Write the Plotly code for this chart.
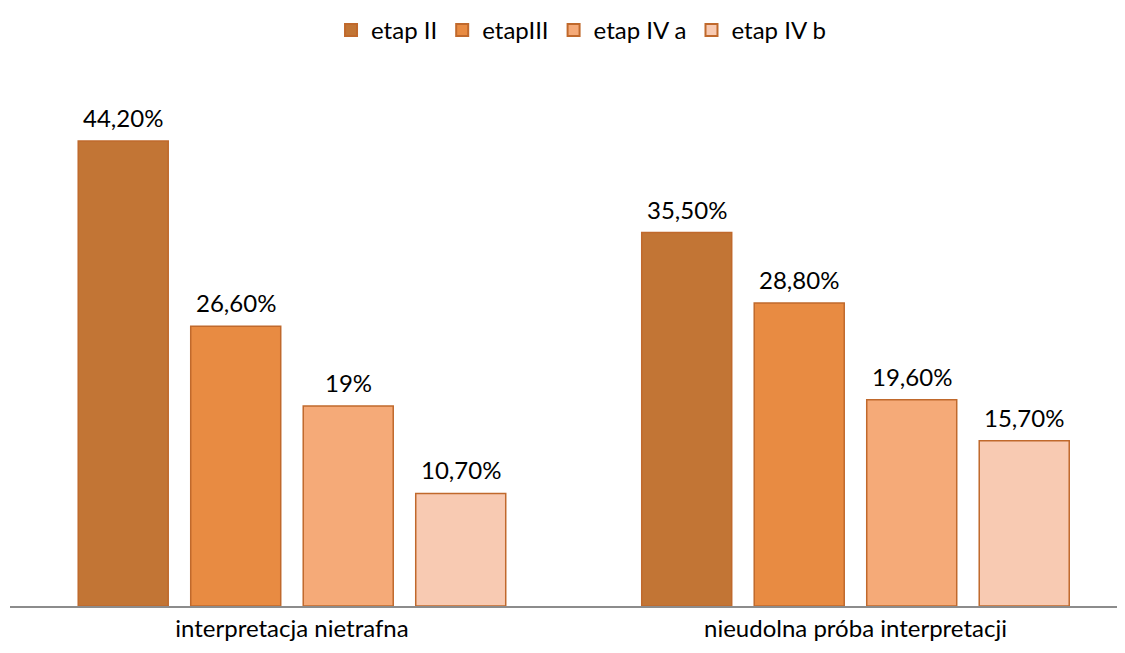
import plotly.graph_objects as go

categories = ["interpretacja nietrafna", "nieudolna próba interpretacji"]
series_names = ["etap II", "etapIII", "etap IV a", "etap IV b"]
values = {
    "etap II": [44.2, 35.5],
    "etapIII": [26.6, 28.8],
    "etap IV a": [19.0, 19.6],
    "etap IV b": [10.7, 15.7],
}
labels = {
    "etap II": ["44,20%", "35,50%"],
    "etapIII": ["26,60%", "28,80%"],
    "etap IV a": ["19%", "19,60%"],
    "etap IV b": ["10,70%", "15,70%"],
}
colors = ["#C27535", "#E88B42", "#F5AA78", "#F8CAB2"]
FONT = "Lato, 'Open Sans', sans-serif"

BARGAP = 0.2014
GROUPGAP = 0.2
n = len(series_names)

fig = go.Figure()
annotations = []
for i, (name, col) in enumerate(zip(series_names, colors)):
    fig.add_trace(go.Bar(
        name=name,
        x=categories,
        y=values[name],
        marker=dict(color=col, line=dict(color="#C0692C", width=1.5)),
    ))
    slot = (1 - BARGAP) / n
    off = (i - (n - 1) / 2) * slot
    for ci, (v, t) in enumerate(zip(values[name], labels[name])):
        annotations.append(dict(
            x=ci + off, y=v, xref="x", yref="y", text=t, showarrow=False,
            yanchor="bottom", yshift=7,
            font=dict(family=FONT, size=24, color="#000000"),
        ))

fig.update_layout(
    width=1117, height=645,
    paper_bgcolor="white", plot_bgcolor="white",
    barmode="group", bargap=BARGAP, bargroupgap=GROUPGAP,
    margin=dict(l=2, r=0, t=72, b=47, autoexpand=False),
    font=dict(family=FONT, size=24, color="#000000"),
    showlegend=True,
    annotations=annotations,
    legend=dict(orientation="h", x=0.513, xref="container", xanchor="center",
                y=1.0, yref="container", yanchor="top",
                font=dict(size=24, family=FONT),
                tracegroupgap=0, itemsizing="constant"),
    xaxis=dict(showline=True, linecolor="#8C8C8C", linewidth=2, ticks="",
               range=[-0.5004, 1.4783],
               automargin=False, tickfont=dict(size=24, family=FONT)),
    yaxis=dict(range=[0, 50], visible=False, showgrid=False, automargin=False),
)
fig.write_html("out.html")
